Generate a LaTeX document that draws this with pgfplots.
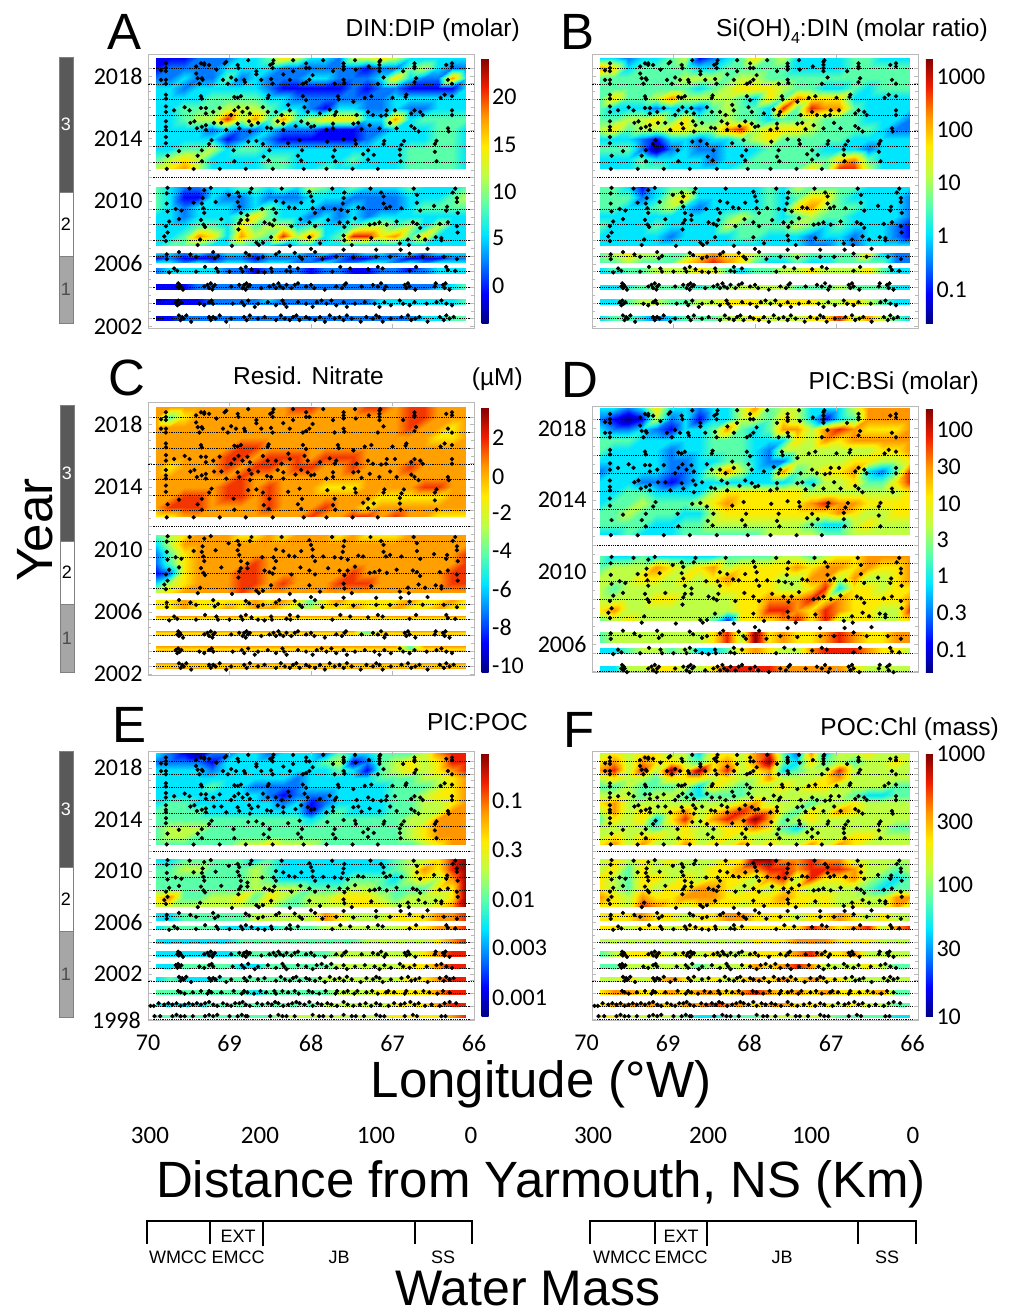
\documentclass[border=0pt]{standalone}
\usepackage{pgfplots}
\usepackage{pgfplotstable}
\usepackage{fontspec}
\pgfplotsset{compat=1.18}
\setmainfont{Liberation Sans}
\newfontfamily\cbf{Carlito}
\newcommand\tl{\cbf\fontsize{24}{26}\selectfont}
\newcommand\dl{\cbf\fontsize{25}{27}\selectfont}
\newcommand\hugef{\fontsize{51}{55}\selectfont}
\newcommand\titlef{\fontsize{24.5}{27}\selectfont}
\newcommand\smallf{\fontsize{18}{20}\selectfont}
\pgfplotsset{colormap={jt}{rgb255=(0,0,130) rgb255=(0,0,255) rgb255=(0,120,255) rgb255=(0,230,255) rgb255=(90,255,170) rgb255=(190,255,70) rgb255=(255,235,0) rgb255=(255,150,0) rgb255=(240,30,0) rgb255=(130,0,0)}}
\newcount\hci
\def\hN{23}\def\hxa{69.9}\def\hxb{66.1}\def\hfac{1}
\def\hemit#1{\pgfmathsetmacro\hx{\hxa+(\hxb-\hxa)*\the\hci/(\hN-1)}\pgfmathsetmacro\hm{#1>6?6+(#1-6)*\hfac:#1}\xdef\hacc{\hacc(\hx,\hy)[\hm]}}
\def\hscan#1{\ifx#1\relax\let\hnext\hpad\else\ifnum\hci<\hN\relax\hemit{#1}\fi\advance\hci by1 \def\hlast{#1}\let\hnext\hscan\fi\hnext}
\def\hpad{\ifnum\hci<\hN\relax\hemit{\hlast}\advance\hci by1 \let\hnext\hpad\else\let\hnext\relax\fi\hnext}
\newcommand\band[3]{\gdef\hacc{}\foreach \hrw [count=\hj] in {#3}{\xdef\hnr{\hj}}\foreach \hrw [count=\hj] in {#3}{\pgfmathsetmacro\hy{#1+(#2-#1)*(\hj-1)/(\hnr-1)}\hci=0 \expandafter\hscan\hrw\relax}\edef\hplot{\noexpand\addplot[surf,shader=interp,mesh/cols=\hN,point meta=explicit,forget plot] coordinates {\hacc};}\hplot}
\pgfplotsset{panel/.style={scale only axis,width=326pt,anchor=south west,colormap name=jt,point meta min=0,point meta max=9,
 xmin=66,xmax=70,x dir=reverse,xtick={66,67,68,69,70},xticklabels={},axis on top,
 axis line style={gray!55,line width=.6pt},tick style={gray!55,line width=.5pt},tick align=inside,major tick length=4pt,minor tick length=3pt,
 minor y tick num=3,yticklabel style={font=\tl,xshift=-2pt},xticklabel style={font=\tl,yshift=-11pt},
 extra y tick labels={},extra y tick style={grid=major,major grid style={black,dash pattern=on .9pt off .9pt,line width=.4pt}},colorbar},
 cb/.style n args={5}{colorbar style={scale only axis,at={(#1,#2)},anchor=south west,width=7pt,height=#3,ytick={#4},yticklabels={#5},ytick style={draw=none},minor y tick num=0,axis line style={draw=none},yticklabel style={font=\tl,xshift=0pt}}},
 dots/.style={only marks,mark=*,mark size=1.95pt,black,forget plot}}
\pgfplotstableread[header=false]{
69.78 18.8
69.78 18.5
69.78 18.3
69.78 17.75
69.78 17.5
69.78 16.8
69.78 16.55
69.78 16.05
69.78 15.7
69.78 15.1
69.78 14.75
69.78 14.55
69.78 14.1
69.78 13.7
69.76 12.9
69.84 18.35
69.84 17.75
69.31 18.8
69.04 18.9
68.77 19
68.46 19
68.22 19
67.85 19
67.46 19
67.15 19
69.41 18.6
69.35 18.8
69.31 18.7
69.25 18.7
69.16 18.4
69.06 18.8
68.9 18.7
68.89 18.5
68.67 18.3
68.67 18.1
68.5 18.7
68.47 18.5
68.47 18.8
68.34 18.1
68.22 18.3
68.06 18.8
68.02 18.5
68.06 18.5
67.73 18.3
67.6 18.8
67.6 18.6
67.6 18.4
67.45 18.4
67.29 18.6
67.16 18.9
67.16 18.7
67.16 18.5
67.16 18.3
66.87 18.3
66.73 18.8
66.73 18.6
66.73 18.5
66.34 18.7
66.27 18.8
66.27 18.6
69.41 18.15
69.39 17.85
69.33 17.75
69.37 17.5
69.34 17.85
69.08 17.75
69.02 17.5
68.98 17.9
68.92 17.75
68.82 17.75
68.81 17.6
68.61 17.75
68.49 17.8
68.47 17.5
68.26 17.75
68.1 17.5
68.06 17.6
68.02 17.75
67.98 18.05
67.71 17.5
67.6 17.75
67.59 17.55
67.18 17.5
67.11 17.9
66.73 17.6
66.71 17.85
66.32 17.75
66.27 17.5
69.35 16.7
69.34 16.55
68.94 16.65
68.9 16.6
68.86 16.7
68.53 16.6
68.52 16.75
68.1 16.7
68.06 16.45
67.67 16.7
67.66 16.5
67.48 16.35
67.34 16.6
67.26 16.7
67 16.6
66.84 16.65
66.83 16.8
66.41 16.6
66.36 16.8
66.27 16.7
69.68 15.8
69.55 16
69.49 15.8
69.35 15.95
69.29 15.6
69.29 15.95
69.2 15.7
69.12 15.95
68.98 15.5
68.94 15.8
68.89 16
68.84 15.7
68.78 15.95
68.75 15.6
68.59 16
68.53 15.7
68.43 15.7
68.36 15.5
68.28 16.15
68.26 15.8
68.08 16
68.04 15.7
67.89 15.6
67.77 15.85
67.69 15.7
67.71 15.5
67.44 15.5
67.3 15.7
67.24 15.5
67.14 15.45
67.07 15.8
67.08 15.5
66.97 15.8
66.77 15.6
66.73 15.8
66.66 15.7
66.63 15.5
66.27 15.8
66.27 15.5
69.48 15
69.43 15.1
69.4 14.65
69.34 14.75
69.29 14.85
69.29 14.55
69.19 15
69.1 15
69.04 14.55
68.9 14.95
68.88 14.65
68.76 15.1
68.73 14.85
68.65 15
68.75 14.45
68.54 14.7
68.49 14.65
68.41 15.1
68.34 14.95
68.34 14.55
68.19 14.8
68.12 15.1
68.04 14.95
68 14.75
67.96 14.8
67.81 14.55
67.73 14.95
67.73 14.65
67.48 14.95
67.42 15
67.38 14.6
67.28 14.85
67.16 14.65
67.03 15
66.95 14.65
66.77 14.8
66.73 14.65
66.68 14.45
66.32 14.65
66.31 14.45
69.25 13.65
69.22 13.9
68.77 13.8
68.67 13.85
68.59 13.65
68.28 13.7
68.14 13.9
67.8 13.8
67.6 13.95
67.46 13.9
67.45 13.65
67.11 13.65
67.1 13.85
66.89 13.6
66.86 13.85
66.48 13.65
66.46 13.85
69.62 13.2
69.39 12.9
69.34 13.25
69.34 12.55
68.95 13.25
68.94 12.55
68.58 12.85
68.51 13.25
68.52 12.6
68.16 12.9
68.11 13.25
68.12 12.6
67.71 13.25
67.73 12.85
67.7 12.55
67.36 13
67.3 13.25
67.23 12.95
67.3 12.65
66.91 13.3
66.91 12.95
66.9 12.55
66.48 13.15
66.46 12.55
69.77 12.06
69.44 12.06
69.12 12.06
68.8 12.06
68.47 12.06
68.09 12.06
67.81 12.06
67.49 12.06
67.18 12.06
69.76 10.85
69.77 10.5
69.49 10.8
69.31 10.7
69.23 10.85
69.33 10.2
69.01 10.4
68.9 10.55
68.88 10.3
68.73 10.8
68.75 10.55
68.36 10.8
68.02 10.6
68 10.3
67.74 10.8
67.59 10.55
67.6 10.2
67.27 10.8
67.14 10.55
67.11 10.3
66.74 10.8
66.7 10.4
66.23 10.8
66.26 10.55
66.21 10.2
69.77 9.85
69.76 9.35
69.66 9.5
69.59 9.4
69.44 9.9
69.34 9.85
69.32 9.55
69.31 9.25
69.17 9.95
68.9 9.95
68.88 9.65
68.86 9.25
68.78 9.1
68.6 9.5
68.43 10
68.46 9.5
68.43 9.25
68.34 9.9
68.27 9.6
68.2 9.55
68.12 9.9
67.98 10
67.98 9.55
67.95 9.25
67.85 9.55
67.71 9.5
67.61 9.85
67.63 9.45
67.55 9.35
67.42 9.6
67.36 9.55
67.11 9.85
67.08 9.55
67.03 9.65
66.89 9.55
66.7 9.9
66.66 9.4
66.49 9.7
66.33 9.65
66.34 9.4
66.21 9.95
66.2 9.25
69.78 8.4
69.74 8.7
69.62 8.85
69.35 8.8
69.32 8.5
69.3 8.35
69.1 8.85
68.88 8.6
68.86 8.8
68.89 8.2
68.78 8.8
68.57 8.65
68.51 8.55
68.45 8.8
68.47 8.45
68.24 8.4
68.13 8.85
68.02 8.65
67.95 8.4
67.79 8.8
67.65 8.65
67.59 8.35
67.55 8.65
67.46 8.9
67.28 8.5
67.22 8.55
67.16 8.65
67.07 8.5
66.95 8.7
66.75 8.65
66.7 8.55
66.66 8.3
66.42 8.55
66.32 8.65
66.21 8.4
66.2 8
69.8 7.75
69.76 8
69.78 7.45
69.39 7.2
69.36 7.55
68.97 7.15
68.67 7.35
68.64 7.2
68.59 7.35
68.49 7.7
68.26 7.15
68.02 7.7
67.89 7.3
67.6 7.8
67.59 7.5
67.5 7.2
67.26 7.65
66.91 7.3
66.81 7.55
66.8 7.2
66.68 7.75
66.6 7.55
66.47 7.7
66.4 7.65
66.4 7.5
69.77 6.6
69.77 6.3
69.62 6.75
69.48 6.6
69.41 6.45
69.2 6.75
69.18 6.35
69.14 6.5
68.8 6.7
68.76 6.55
68.65 6.35
68.59 6.45
68.43 6.6
68.39 6.75
68.2 6.7
68.14 6.45
68.11 6.3
68 6.95
67.95 6.75
67.86 6.3
67.69 6.45
67.6 6.9
67.48 6.4
67.2 6.9
67.2 6.45
66.9 6.9
67.03 6.45
66.79 6.65
66.63 6.45
66.57 6.95
66.37 6.45
66.21 6.3
69.74 5.45
69.68 5.7
69.64 5.55
69.41 5.5
69.3 5.8
69.16 5.7
69.14 5.5
69 5.5
68.86 5.7
68.84 5.5
68.8 5.8
68.73 5.65
68.65 5.5
68.57 5.45
68.49 5.7
68.48 5.5
68.3 5.55
68.26 5.8
68.25 5.5
68.16 5.7
67.74 5.5
67.64 5.8
67.52 5.7
67.3 5.65
67.18 5.8
67.12 5.7
66.79 5.55
66.71 5.8
66.34 5.8
66.32 5.6
66.23 5.55
}\maindots
\pgfplotstableread[header=false]{
69.64 2
69.63 4
69.62 1
69.61 3
69.6 2
69.57 0
69.31 2
69.27 3
69.25 1
69.23 4
69.21 0
69.2 2
69.18 3
68.98 2
68.88 3
68.84 1
68.82 3
68.8 0
68.79 4
68.77 2
68.75 3
68.61 1
68.51 2
68.46 3
68.43 1
68.4 4
68.38 2
68.34 1
68.3 3
68.24 1
68.2 3
68.16 4
68.06 2
68 3
67.96 1
67.83 0
67.69 2
67.62 1
67.59 3
67.57 4
67.38 2
67.24 3
67.18 2
67.14 4
67.1 0
67.08 2
66.85 3
66.83 1
66.81 4
66.79 2
66.72 0
66.48 2
66.47 4
66.38 3
66.36 1
66.35 4
66.3 0
}\Rone
\pgfplotstableread[header=false]{
69.66 3
69.64 1
69.63 4
69.61 2
69.59 3
69.37 2
69.31 1
69.25 3
69.22 4
69.2 2
68.96 2
68.85 3
68.82 1
68.77 4
68.69 0
68.65 2
68.53 3
68.43 1
68.35 4
68.33 2
68.3 0
68.16 3
68.06 2
67.98 0
67.93 3
67.87 4
67.81 2
67.75 4
67.69 1
67.6 3
67.56 0
67.46 2
67.34 3
67.22 2
67.16 0
67.1 3
67.02 1
66.91 4
66.87 2
66.79 1
66.73 3
66.58 2
66.46 3
66.4 4
66.34 2
66.27 1
}\Rtwo
\pgfplotstableread[header=false]{
69.62 4
69.6 1
69.58 3
69.56 2
69.53 4
69.47 0
69.25 3
69.23 1
69.2 3
69.17 2
69.12 4
69.04 0
68.98 2
68.82 3
68.79 1
68.75 4
68.65 2
68.57 3
68.43 1
68.37 4
68.32 2
68.26 1
68.22 3
68.18 4
68.14 1
68.06 3
68.02 2
67.95 1
67.89 3
67.83 0
67.77 4
67.71 2
67.65 3
67.6 1
67.56 4
67.5 2
67.39 0
67.32 3
67.24 2
67.2 4
67.16 3
67.12 0
67.02 2
66.89 3
66.81 4
66.77 1
66.72 2
66.67 3
66.57 0
66.42 3
66.37 1
66.34 4
66.3 2
66.25 3
}\Rthree
\pgfplotstableread[header=false]{
69.63 3
69.6 2
69.55 1
69.45 2
69.35 3
69.27 1
69.25 3
69.22 2
69.1 2
68.95 3
68.85 1
68.82 3
68.78 2
68.7 1
68.62 3
68.55 2
68.45 3
68.43 1
68.35 3
68.28 2
68.2 3
68.15 1
68.03 3
67.98 2
67.9 1
67.82 3
67.7 1
67.68 3
67.6 2
67.55 3
67.47 1
67.43 3
67.32 2
67.25 3
67.18 1
67.08 2
67.05 3
66.98 2
66.85 1
66.83 3
66.72 2
66.62 3
66.55 2
66.45 1
66.38 3
66.3 2
}\Rfour
\pgfplotstableread[header=false]{
69.97 1
69.93 1
69.87 3
69.8 2
69.75 3
69.7 2
69.65 3
69.6 1
69.55 2
69.5 3
69.45 2
69.4 3
69.35 2
69.3 3
69.25 4
69.2 2
69.15 1
69.08 3
69.03 2
68.98 1
68.93 3
68.88 3
68.84 4
68.8 2
68.75 1
68.66 3
68.6 2
68.53 3
68.48 2
68.44 4
68.4 3
68.34 1
68.28 2
68.23 3
68.18 4
68.14 3
68.08 2
68.02 4
67.98 1
67.92 3
67.87 2
67.8 3
67.75 2
67.68 1
67.6 4
67.55 2
67.48 1
67.4 2
67.33 3
67.26 1
67.2 3
67.15 2
67.05 1
66.98 3
66.9 2
66.85 3
66.78 4
66.73 2
66.68 3
66.6 1
66.52 2
66.42 1
66.36 3
66.3 4
66.22 3
}\Rfive
\pgfplotstableread[header=false]{
69.92 2
69.85 2
69.7 2
69.65 3
69.6 2
69.55 2
69.45 2
69.3 2
69.25 3
69.2 2
69.15 3
69 2
68.9 2
68.85 3
68.8 2
68.78 2
68.5 2
68.4 3
68.35 2
68.3 2
68.2 2
67.98 3
67.9 2
67.85 2
67.75 2
67.6 3
67.5 2
67.45 2
67.35 2
67.2 3
67.15 2
67.1 2
66.85 2
66.75 3
66.7 2
66.4 2
66.35 2
}\Rsix
\newcommand\mainpts{\addplot[dots] table[x index=0,y expr=2000+\thisrowno{1}]{\maindots};}
\newcommand\rowpts[2]{\addplot[dots] table[x index=0,y expr=#2+\thisrowno{1}*0.1]{#1};}
\newcommand\sbar[6]{%x1 x2 y0 y1 y2 y3
 \fill[black!65,draw=gray] (#1,{1313-#3}) rectangle (#2,{1313-#4});
 \fill[white,draw=gray] (#1,{1313-#4}) rectangle (#2,{1313-#5});
 \fill[black!35,draw=gray] (#1,{1313-#5}) rectangle (#2,{1313-#6});
 \node[white,font=\smallf] at ({(#1+#2)/2},{1313-(#3+#4)/2+0}) {3};
 \node[font=\smallf] at ({(#1+#2)/2},{1313-(#4+#5)/2}) {2};
 \node[black!70,font=\smallf] at ({(#1+#2)/2},{1313-(#5+#6)/2}) {1};}
\newcommand\bracket[5]{\draw[line width=1.1pt] (#1,{1313-1244}) -- (#1,{1313-1221}) -- (#5,{1313-1221}) -- (#5,{1313-1244});
 \draw[line width=1.1pt] (#2,{1313-1221}) -- (#2,{1313-1244}) (#3,{1313-1221}) -- (#3,{1313-1246}) (#4,{1313-1221}) -- (#4,{1313-1244});}
\begin{document}
\begin{tikzpicture}[x=1pt,y=1pt]
\path[use as bounding box,fill=white] (0,0) rectangle (1012,1313);
% ---------- A
\begin{axis}[panel,at={(148pt,985pt)},height=274pt,ymin=2001.9,ymax=2019.4,ytick={2002,2006,2010,2014,2018},yticklabels={2002,2006,2010,2014,2018},
 extra y ticks={2002.5,2003.5,...,2018.5},cb={1.0236}{0.018}{265pt}{1.27,2.89,4.47,6.06,7.68}{0,5,10,15,20}]
\band{2019.13}{2012.07}{11122233465332556533333,12222333322222212245322,22322423222332223632273,33233333211111212211113,33334444332222222333333,33444555433213322322333,33455857474566633734444,33332322322211122333443,33333123211111123333443,33445344333333333344443,45653333443333433344443,56753333443343333344443}
\band{2010.9}{2007.17}{43223344343543433343334,43113223222333222233345,43233323433322322234444,33233346433232323333333,33344364553433455453533,33476375485734886746333,34443343323333333333333}
\band{2006.68}{2006.09}{33232332333232233232333,12111221222212112211122,33232332332232233232333}
\band{2005.7}{2005.4}{23333221222122112212333,23333221222122112222333}
\band{2004.7}{2004.36}{11122222222222222222234,11122222222222222222334}
\band{2003.77}{2003.38}{01112222322222223333334,11112222222222223333334}
\band{2002.68}{2002.38}{11222222222222222223344,11222222222222222223344}
\mainpts \rowpts{\Rone}{2004.35} \rowpts{\Rtwo}{2003.25} \rowpts{\Rthree}{2002.3}
\end{axis}
% ---------- B
\begin{axis}[panel,at={(592pt,985pt)},height=274pt,ymin=2001.9,ymax=2019.4,ytick={2002,2006,2010,2014,2018},yticklabels={},
 extra y ticks={2002.5,2003.5,...,2018.5},cb={1.0245}{0.018}{265pt}{1.13,2.96,4.77,6.57,8.38}{0.1,1,10,100,1000}]
\band{2019.13}{2012.07}{33233451234645333344333,76344443344444333344444,44444455545544444444444,44444443456665443343444,46445755554364766633333,43332332454438487743333,44556464454434454443332,56455665578566654444322,33321332334564444433333,44420232233344443332333,33343333233444444674333,33344333334444464885333}
\band{2010.9}{2007.17}{44313443333343544443333,44423563333343466433332,44334532333343675443332,33333333345443454433332,43334333354444543433321,33333233334433323323321,33333333333333322323333}
\band{2006.68}{2006.09}{45655446766544544446322,44544467876433433444422}
\band{2005.7}{2005.4}{34445556543445565556433,33445556643445565556433}
\band{2004.65}{2004.36}{33344443445555444544433,33444444455555444544433}
\band{2003.75}{2003.38}{33455445566656665565433,33455445566656665565433}
\band{2002.68}{2002.38}{34432344455655566857543,34432344455655566857543}
\mainpts \rowpts{\Rone}{2004.35} \rowpts{\Rtwo}{2003.25} \rowpts{\Rthree}{2002.3}
\end{axis}
% ---------- C
\def\hfac{0.9}
\begin{axis}[panel,at={(148pt,638pt)},height=273pt,ymin=2001.95,ymax=2019.46,ytick={2002,2006,2010,2014,2018},yticklabels={2002,2006,2010,2014,2018},
 extra y ticks={2002.5,2003.5,...,2018.5},cb={1.0236}{0.01}{264.6pt}{0.22,1.52,2.82,4.13,5.41,6.65,7.99}{-10,-8,-6,-4,-2,0,2}]
\band{2019.12}{2012.12}{77777777778877788788777,74677777777777777788777,77777777777777777787767,77777777777777777777667,77777788777777777777777,77777887888788877777777,76777878878877877787777,77777787777777777777777,77777887877766677778877,77887887877777776666677,78887777877787767777777,66777777777877887877666}
\band{2010.95}{2007.26}{45677766767776766677777,35777777777777777777777,24677777777777777777778,24677778777777777777778,12677788777777877777788,35677788787778887777788,56777787777777777777777}
\band{2006.76}{2006.19}{66766667676467666676676,66766767765566766766766}
\band{2005.76}{2005.48}{77777776777777777777777,66666666666666666666666,77777777777777777777777}
\band{2004.78}{2004.48}{77777777777777747777777,66666666666666646666666,77777777777777777777777}
\band{2003.81}{2003.47}{77777777777777777747777,66666666666666666646666,77777777777777777777777}
\band{2002.7}{2002.38}{77777777777777777777777,66666666666666666666666,77777777777777777777777}
\mainpts \rowpts{\Rone}{2004.35} \rowpts{\Rtwo}{2003.25} \rowpts{\Rthree}{2002.3}
\end{axis}
\def\hfac{1}
% ---------- D
\begin{axis}[panel,at={(592pt,640.7pt)},height=265.6pt,ymin=2004.44,ymax=2019.2,ytick={2006,2010,2014,2018},yticklabels={2006,2010,2014,2018},
 extra y ticks={2004.5,2005.5,...,2018.5},cb={1.0245}{0}{264pt}{0.78,2.03,3.28,4.53,5.76,7.01,8.26}{0.1,0.3,1,3,10,30,100}]
\band{2019.1}{2012.1}{33236332335745533357777,21015231335546531347777,32232133474347757876667,44433333444333657677777,43333233444325555555667,33333223344322555566556,23333223575337456673248,33322123333333435564468,33443333566666655555556,34454445676666678776666,44544433566666666765566,44443344555555543356555,33433344444455554455555}
\band{2010.9}{2007.3}{43343333344445545667777,45557656756666767767667,55566565676665577575567,54555555566665568366566,55556655556677786766667,67555555556688768766558,45655555416667868566556}
\band{2006.7}{2006.1}{45555555685967667876677,45555555685967667876677}
\band{2005.8}{2005.5}{33455453346765578887665,33455453346765578887665}
\band{2004.8}{2004.5}{33556655688887777765555,33556655688887777765555}
\mainpts \rowpts{\Rone}{2004.45}
\end{axis}
% ---------- E
\begin{axis}[panel,at={(148pt,292.3pt)},height=269pt,ymin=1998.4,ymax=2019.25,ytick={2002,2006,2010,2014,2018},yticklabels={2002,2006,2010,2014,2018},xticklabels={66,67,68,69,70},
 extra y ticks={1998.5,1999.5,...,2018.5},cb={1.0236}{0.0149}{263.4pt}{0.66,2.34,4.01,5.7,7.38}{0.001,0.003,0.01,0.3,0.1}]
\band{2019.12}{2012.09}{32102233233324334445788,22221333333345124565688,33332333333334314565678,33333333332333334445567,33334332222333333444567,33333333212223333445667,34433333323123333445567,44443333333134333445577,44444444444344444455777,45554444444444444456777,45544444444444444456777,44444455655544444445677}
\band{2010.93}{2007.23}{33444443433333333455689,44554445433333333457689,44444445433333444356579,44444445555444554444669,67445564654556665455569,55555555544555666555679}
\band{2006.72}{2006.15}{33444445555576555666778,33444445555576555666778}
\band{2005.74}{2005.45}{34444333344455555566778,34444333344455555566778}
\band{2004.7}{2004.39}{33333344444444455555678,33333344444444455555678}
\band{2003.82}{2003.41}{33333344444445555556788,33333344444445555556788}
\band{2002.76}{2002.43}{33444433444445555566788,33444433444445555566788}
\band{2001.81}{2001.45}{34333444444455555566788,34333444444455555566788}
\band{2000.77}{2000.46}{44444443444445556666788,44444443444445556666788}
\band{1999.79}{1999.48}{33334444444455555666788,33334444444455555666788}
\band{1998.84}{1998.65}{44444444455555555666678,44444444455555555666678}
\mainpts \rowpts{\Rone}{2003.35} \rowpts{\Rtwo}{2002.4} \rowpts{\Rthree}{2001.4} \rowpts{\Rfour}{2000.4} \rowpts{\Rfive}{1999.45} \rowpts{\Rsix}{1998.55}
\end{axis}
% ---------- F
\begin{axis}[panel,at={(592pt,292.3pt)},height=269pt,ymin=1998.4,ymax=2019.25,ytick={2002,2006,2010,2014,2018},yticklabels={},xticklabels={66,67,68,69,70},xticklabel style={xshift=-5.5pt},
 extra y ticks={1998.5,1999.5,...,2018.5},cb={1.0245}{0.0149}{262.7pt}{0,2.34,4.51,6.68,9}{10,30,100,300,1000}]
\band{2019.12}{2012.09}{56566553665784273556555,67576654675794364545565,78585969685673455855555,56554666565575556755555,44544453654556566555544,55545543444555555543344,67555555556755545565555,57565675678775465765555,46563685787974565555555,55554565566764355555544,56566565565555555566555,67575575657565575765555}
\band{2010.93}{2007.23}{56565655566997787755555,56465555667788788875545,65466565666578586675434,65465667765656655554344,76576677766667666555577,66587656665666656565575}
\band{2006.72}{2006.15}{66676656677666566765655,66676656677666566765655}
\band{2005.74}{2005.45}{66566566656666687678578,66566566656666687678578}
\band{2004.7}{2004.39}{55555555555666777666555,55555555555666777666555}
\band{2003.82}{2003.41}{45666565655666786675555,45666565655666786675555}
\band{2002.76}{2002.43}{44555554555767875556544,44555554555767875556544}
\band{2001.81}{2001.45}{55656765656767676655555,55656765656767676655555}
\band{2000.77}{2000.46}{67766767767876767666744,67766767767876767666744}
\band{1999.79}{1999.48}{67777677877677666565544,67777677877677666565544}
\band{1998.84}{1998.65}{66555543344455555444433,66555543344455555444433}
\mainpts \rowpts{\Rone}{2003.35} \rowpts{\Rtwo}{2002.4} \rowpts{\Rthree}{2001.4} \rowpts{\Rfour}{2000.4} \rowpts{\Rfive}{1999.45} \rowpts{\Rsix}{1998.55}
\end{axis}
% side bars
\sbar{59}{73}{57}{192}{256}{323}
\sbar{60}{74}{405}{541}{604}{672}
\sbar{59}{73}{751}{867}{931}{1017}
% letters
\node[font=\hugef] at (125,{1313-32}) {A};
\node[font=\hugef] at (577,{1313-32}) {B};
\node[font=\hugef] at (127,{1313-378}) {C};
\node[font=\hugef] at (580,{1313-380}) {D};
\node[font=\hugef] at (130,{1313-725}) {E};
\node[font=\hugef] at (579,{1313-730}) {F};
% titles
\node[font=\titlef,anchor=base east,inner sep=0pt] at (520,{1313-37}) {DIN:DIP (molar)};
\node[font=\titlef,anchor=base east,inner sep=0pt] at (988,{1313-37}) {Si(OH)\raisebox{-0.25em}{\fontsize{16}{18}\selectfont 4}:DIN (molar ratio)};
\node[font=\titlef,anchor=base east,inner sep=0pt] at (384,{1313-385}) {Resid. Nitrate};
\node[font=\titlef,anchor=base east,inner sep=0pt] at (523,{1313-386}) {(µM)};
\node[font=\titlef,anchor=base east,inner sep=0pt] at (979,{1313-390}) {PIC:BSi (molar)};
\node[font=\titlef,anchor=base east,inner sep=0pt] at (528,{1313-731}) {PIC:POC};
\node[font=\titlef,anchor=base east,inner sep=0pt] at (999,{1313-736}) {POC:Chl (mass)};
% big labels
\node[font=\hugef,rotate=90,inner sep=0pt] at (35,{1313-530}) {Year};
\node[font=\hugef,anchor=base,inner sep=0pt] at (541,{1313-1098}) {Longitude (°W)};
\node[font=\hugef,anchor=base,inner sep=0pt] at (541,{1313-1198}) {Distance from Yarmouth, NS (Km)};
\node[font=\fontsize{50}{52}\selectfont,anchor=base,inner sep=0pt] at (528,{1313-1305}) {Water Mass};
\node[font=\tl,anchor=east,inner sep=0pt] at (141,{1313-1020}) {1998};
% distance labels
\foreach \xx/\tt in {150/300,260/200,376/100,471/0,593/300,708/200,811/100,913/0}{\node[font=\dl] at (\xx,{1313-1135}) {\tt};}
% brackets
\bracket{147}{210}{263}{415}{472}
\bracket{590}{655}{707}{858}{916}
\foreach \xx/\tt in {178/WMCC,238/EMCC,339/JB,443/SS,622/WMCC,681/EMCC,782/JB,887/SS}{\node[font=\smallf] at (\xx,{1313-1257}) {\tt};}
\node[font=\smallf] at (238,{1313-1236}) {EXT};
\node[font=\smallf] at (681,{1313-1236}) {EXT};
\end{tikzpicture}
\end{document}
